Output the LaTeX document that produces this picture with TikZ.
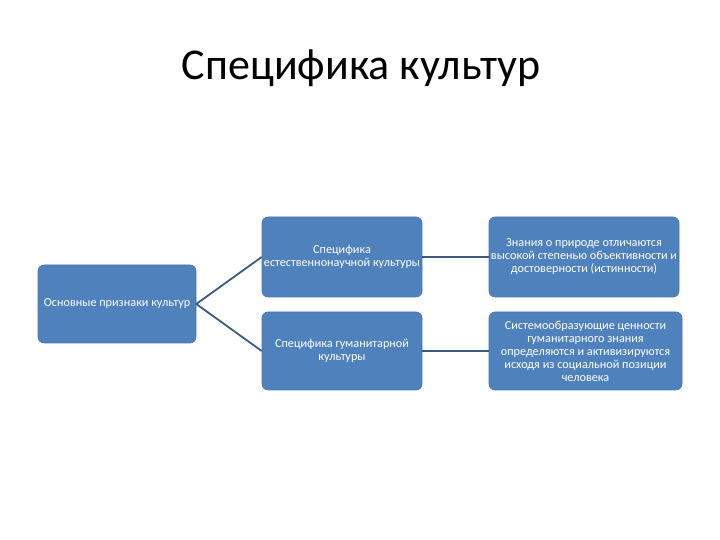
\documentclass[tikz,border=0pt]{standalone}
\usepackage{fontspec}
\setmainfont{Carlito}
\definecolor{boxblue}{HTML}{4F81BD}
\definecolor{boxedge}{HTML}{4A76AD}
\definecolor{linkcol}{HTML}{3B5A80}
\begin{document}
\begin{tikzpicture}[x=1pt,y=1pt,
  blk/.style={draw=boxedge, line width=0.6pt, fill=boxblue, rounded corners=6pt, text=white,
    inner sep=0pt, align=center, font=\fontsize{12.2}{13}\selectfont},
  link/.style={draw=linkcol, line width=1.8pt}]
\useasboundingbox (0,0) rectangle (720,540);
\fill[white] (0,0) rectangle (720,540);
\node (title) at (361,472) {\fontsize{44}{50}\selectfont Специфика культур};
\node[blk, minimum width=158pt, minimum height=78pt] (root) at (117,236) {Основные признаки культур};
\node[blk, minimum width=160pt, minimum height=80pt] (nat) at (342,283) {Специфика\\естественнонаучной культуры};
\node[blk, minimum width=160pt, minimum height=78pt] (hum) at (342,189) {Специфика гуманитарной\\культуры};
\node[blk, minimum width=190pt, minimum height=80pt] (natd) at (584,283) {Знания о природе отличаются\\высокой степенью объективности и\\достоверности (истинности)};
\node[blk, minimum width=193pt, minimum height=78pt] (humd) at (585.5,189) {Системообразующие ценности\\гуманитарного знания\\определяются и активизируются\\исходя из социальной позиции\\человека};
\draw[link] (root.east) -- (nat.west);
\draw[link] (root.east) -- (hum.west);
\draw[link] (nat.east) -- (natd.west);
\draw[link] (hum.east) -- (humd.west);
\end{tikzpicture}
\end{document}
